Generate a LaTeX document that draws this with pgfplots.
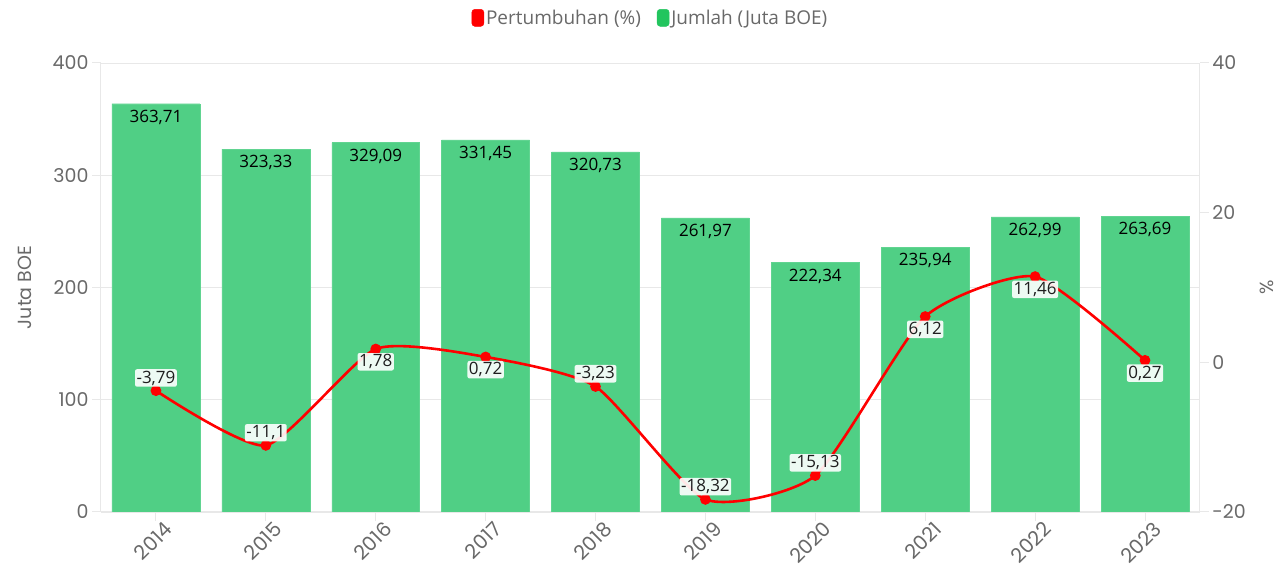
\documentclass[border=0pt]{standalone}
\usepackage{pgfplots}
\pgfplotsset{compat=1.18}
\usepackage{pgfplotstable}
\usepackage{fontspec}
\setmainfont{Open Sans}
\newfontfamily\tickfont{Poppins}
\definecolor{barg}{RGB}{80,207,133}
\definecolor{legg}{RGB}{34,197,94}
\definecolor{gridc}{RGB}{232,232,232}
\definecolor{tickc}{RGB}{105,105,105}
\definecolor{labc}{RGB}{30,30,30}

\pgfplotstableread{
x y
0 363.71
1 323.33
2 329.09
3 331.45
4 320.73
5 261.97
6 222.34
7 235.94
8 262.99
9 263.69
}\bars

\pgfplotstableread{
x y
0 -3.79
1 -11.1
2 1.78
3 0.72
4 -3.23
5 -18.32
6 -15.13
7 6.12
8 11.46
9 0.27
}\growth

\pgfplotstableread{
x y
0 -3.79
1 -11.1
4 -3.23
5 -18.32
6 -15.13
}\growthabove

\pgfplotstableread{
x y
2 1.78
3 0.72
7 6.12
8 11.46
9 0.27
}\growthbelow

\tikzset{glab/.style={font=\fontsize{17}{19}\selectfont, text=labc,
    anchor=#1, outer sep=4pt, inner sep=1.5pt, fill=white, fill opacity=0.9,
    text opacity=1, rounded corners=2pt}}

\pgfplotsset{
  common/.style={
    at={(0,0)}, anchor=south west,
    scale only axis, width=1099pt, height=449pt,
    xmin=-0.5, xmax=9.5,
    axis line style={gridc, line width=1pt},
    tick style={gridc, line width=1pt},
    tick align=outside,
    major tick length=9pt,
    ticklabel style={font=\tickfont\fontsize{19}{21}\selectfont, color=tickc},
    label style={font=\tickfont\fontsize{19}{21}\selectfont, color=tickc},
    /pgf/number format/assume math mode=true,
  },
}

\begin{document}
\begin{tikzpicture}
\path[use as bounding box] (-101pt,-57pt) rectangle (1179pt,512pt);
\begin{axis}[
  common,
  ymin=0, ymax=400, ytick={0,100,200,300,400},
  axis x line*=bottom, axis y line*=left,
  xtick={0,...,9},
  xticklabels={2014,2015,2016,2017,2018,2019,2020,2021,2022,2023},
  xticklabel style={rotate=45, anchor=north east, xshift=9pt, yshift=-1pt,
    font=\tickfont\fontsize{20}{22}\selectfont},
  ymajorgrids, grid style={gridc, line width=0.8pt},
  ylabel={Juta BOE},
  ylabel style={yshift=14pt},
  ybar, bar width=0.8,
]
\addplot[fill=barg, draw=barg!90!white,
  nodes near coords,
  nodes near coords style={font=\fontsize{17}{19}\selectfont, color=black,
    anchor=north, outer sep=3pt,
    /pgf/number format/.cd, use comma, fixed, precision=2, assume math mode=true},
] table[x=x, y=y] {\bars};
\end{axis}
\begin{axis}[
  common,
  ymin=-20, ymax=40, ytick={-20,0,20,40},
  axis x line=none, axis y line*=right,
  ylabel={\%},
  ylabel style={yshift=-7pt},
  legend style={at={(0.5,1)}, anchor=south, yshift=33pt, draw=none,
    font=\fontsize{19}{21}\selectfont, text=tickc, legend columns=2,
    /tikz/every even column/.append style={column sep=14pt}},
  legend cell align=left,
]
\addplot[red, line width=2.6pt, smooth, tension=0.35, mark=*, mark size=4pt,
  mark options={fill=red, draw=red}, forget plot] table[x=x, y=y] {\growth};
\addplot[draw=none, mark=none, forget plot, nodes near coords,
  nodes near coords style={glab=south,
    /pgf/number format/.cd, use comma, fixed, precision=2, assume math mode=true}]
  table[x=x, y=y] {\growthabove};
\addplot[draw=none, mark=none, forget plot, nodes near coords,
  nodes near coords style={glab=north,
    /pgf/number format/.cd, use comma, fixed, precision=2, assume math mode=true}]
  table[x=x, y=y] {\growthbelow};
\addlegendimage{legend image code/.code={\fill[red, rounded corners=3pt] (-4pt,-8.5pt) rectangle (8pt,8.5pt);}}
\addlegendentry{Pertumbuhan (\%)}
\addlegendimage{legend image code/.code={\fill[legg, rounded corners=3pt] (-4pt,-8.5pt) rectangle (8pt,8.5pt);}}
\addlegendentry{Jumlah (Juta BOE)}
\end{axis}
\end{tikzpicture}
\end{document}
